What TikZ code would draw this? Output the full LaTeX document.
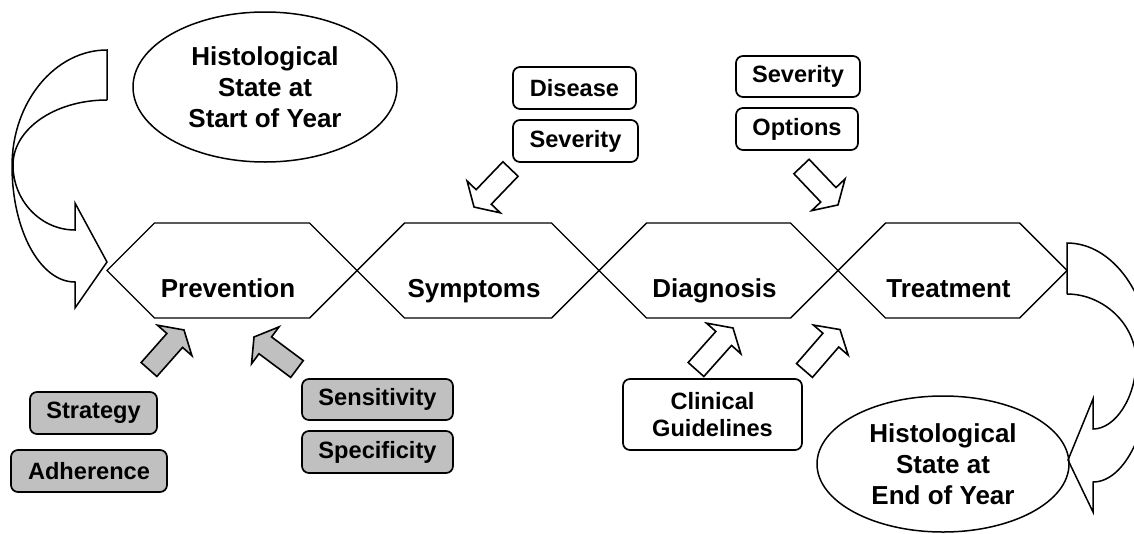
\documentclass[tikz,border=0pt]{standalone}
\usepackage{fontspec}
\setmainfont{Liberation Sans}
\usetikzlibrary{shapes.geometric}
\definecolor{boxgrey}{HTML}{C0C0C0}
\tikzset{
  hexline/.style={draw=black, line width=1.4pt, line join=miter},
  hexlabel/.style={font=\fontsize{26}{30}\selectfont\bfseries, inner sep=0pt, anchor=base},
  infobox/.style={draw=black, line width=1.7pt, rounded corners=7pt, fill=white, inner sep=0pt,
    font=\fontsize{23.6}{27}\selectfont\bfseries, align=center},
  greybox/.style={infobox, fill=boxgrey},
  stateell/.style={ellipse, draw=black, line width=1.5pt, inner sep=0pt,
    font=\fontsize{26}{31}\selectfont\bfseries, align=center},
  curvearrow/.style={draw=black, line width=1.5pt, line join=miter},
  whitearrow/.style={draw=black, fill=white, line width=1.6pt, line join=miter},
  greyarrow/.style={draw=black, fill=boxgrey, line width=1.6pt, line join=miter}
}
% #1 name, #2 left tip x, #3 right tip x, #4 label
\newcommand\hexstage[4]{%
  \draw[hexline] (#2,270.5) -- ({#2+47.5},223) -- ({#3-47.5},223) -- (#3,270.5)
    -- ({#3-47.5},318) -- ({#2+47.5},318) -- cycle;
  \node[hexlabel] (#1) at ({(#2+#3)/2-4},297) {#4};
}
% #1 style, #2 tail centre, #3 angle, #4 length
\newcommand\blockarrow[4]{%
  \draw[#1, shift={(#2)}, rotate=#3] (0,-10.5) -- ({#4-14},-10.5) -- ({#4-14},-23)
    -- (#4,0) -- ({#4-14},23) -- ({#4-14},10.5) -- (0,10.5) -- cycle;
}
\begin{document}
\begin{tikzpicture}[x=1pt, y=-1pt]
\useasboundingbox (0,0) rectangle (1134,533);
\clip (0,0) rectangle (1134,533);

% stages
\hexstage{prev}{107}{357}{Prevention}
\hexstage{symp}{357}{599}{Symptoms}
\hexstage{diag}{599}{838}{Diagnosis}
\hexstage{treat}{838}{1067}{Treatment}

% states
\node[stateell, minimum width=264pt, minimum height=150pt] (start) at (265,87)
  {Histological\\State at\\Start of Year};
\node[stateell, minimum width=252pt, minimum height=136pt] (end) at (943,464)
  {Histological\\State at\\End of Year};

% curved arrow: start of year -> prevention
\draw[curvearrow] (107,100) -- (107,50)
  .. controls (55,50) and (12,102) .. (12,166)
  .. controls (12,230) and (40,282) .. (75,282)
  -- (75,308) -- (107,262) -- (75,203) -- (75,230)
  .. controls (41,230) and (13,201) .. (13,165)
  .. controls (13,129) and (55,100) .. (107,100);

% curved arrow: treatment -> end of year
\draw[curvearrow] (1067,294) -- (1067,243)
  .. controls (1113,243) and (1151,296) .. (1151,362)
  .. controls (1151,428) and (1125,482) .. (1093,482)
  -- (1093,512) -- (1068,460) -- (1093,399) -- (1093,429)
  .. controls (1115,429) and (1136,398) .. (1136,361)
  .. controls (1136,324) and (1103,294) .. (1067,294);

% input boxes
\node[infobox, minimum width=123pt, minimum height=42pt] (disease) at (574.5,88) {Disease};
\node[infobox, minimum width=125pt, minimum height=42pt] (sevL) at (575.5,141) {Severity};
\node[infobox, minimum width=124pt, minimum height=41pt] (sevR) at (798,76.5) {Severity};
\node[infobox, minimum width=122pt, minimum height=42pt] (options) at (797,129) {Options};
\node[infobox, minimum width=179pt, minimum height=71pt] (guide) at (712.5,414.5) {Clinical\\Guidelines};
\node[greybox, minimum width=127pt, minimum height=42pt] (strategy) at (93.5,413) {Strategy};
\node[greybox, minimum width=156pt, minimum height=42pt] (adherence) at (89,471) {Adherence};
\node[greybox, minimum width=151pt, minimum height=41pt] (sensitivity) at (377.5,399.5) {Sensitivity};
\node[greybox, minimum width=151pt, minimum height=42pt] (specificity) at (377.5,452) {Specificity};

% block arrows
\blockarrow{whitearrow}{510.5,169}{226.2}{52.7}
\blockarrow{whitearrow}{801.5,166.5}{313.5}{53}
\blockarrow{greyarrow}{149,369.5}{48.5}{52.8}
\blockarrow{greyarrow}{297,369}{143.3}{53.6}
\blockarrow{whitearrow}{696,369.5}{48.3}{55.6}
\blockarrow{whitearrow}{804.5,370.5}{49.1}{54.2}
\end{tikzpicture}
\end{document}
